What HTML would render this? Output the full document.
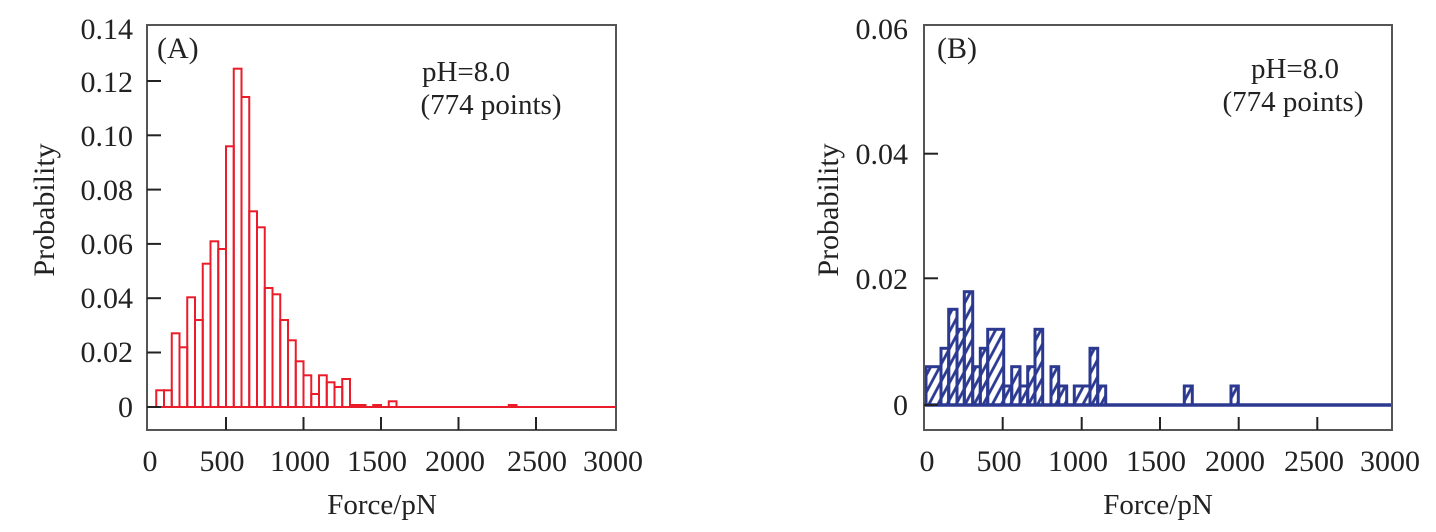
<!DOCTYPE html>
<html><head><meta charset="utf-8"><style>
html,body{margin:0;padding:0;background:#fff;}
svg{display:block;font-family:"Liberation Serif",serif;}
</style></head><body>
<svg width="1436" height="532" viewBox="0 0 1436 532" xmlns="http://www.w3.org/2000/svg">
<defs>
<pattern id="h" patternUnits="userSpaceOnUse" width="8" height="8" patternTransform="rotate(28)">
<line x1="2" y1="0" x2="2" y2="8" stroke="#2b3990" stroke-width="2.8"/>
</pattern>
</defs>
<!-- Panel A -->
<g stroke="#ea1c2a" stroke-width="2" fill="none">
<line x1="147" y1="407" x2="616" y2="407"/>
<rect x="156.25" y="390.3" width="7.75" height="16.7"/>
<rect x="164" y="390.3" width="7.75" height="16.7"/>
<rect x="171.75" y="333.3" width="7.75" height="73.7"/>
<rect x="179.5" y="347.3" width="7.75" height="59.7"/>
<rect x="187.25" y="297.3" width="7.75" height="109.7"/>
<rect x="195" y="320" width="7.75" height="87"/>
<rect x="202.75" y="263.7" width="7.75" height="143.3"/>
<rect x="210.5" y="241.3" width="7.75" height="165.7"/>
<rect x="218.25" y="249" width="7.75" height="158"/>
<rect x="226" y="146.3" width="7.75" height="260.7"/>
<rect x="233.75" y="68.7" width="7.75" height="338.3"/>
<rect x="241.5" y="97" width="7.75" height="310"/>
<rect x="249.25" y="211.3" width="7.75" height="195.7"/>
<rect x="257" y="227.3" width="7.75" height="179.7"/>
<rect x="264.75" y="288" width="7.75" height="119"/>
<rect x="272.5" y="294.3" width="7.75" height="112.7"/>
<rect x="280.25" y="320" width="7.75" height="87"/>
<rect x="288" y="340.3" width="7.75" height="66.7"/>
<rect x="295.75" y="361.3" width="7.75" height="45.7"/>
<rect x="303.5" y="375.3" width="7.75" height="31.7"/>
<rect x="311.25" y="394" width="7.75" height="13"/>
<rect x="319" y="375.3" width="7.75" height="31.7"/>
<rect x="326.75" y="382.3" width="7.75" height="24.7"/>
<rect x="334.5" y="387" width="7.75" height="20"/>
<rect x="342.25" y="379" width="7.75" height="28"/>
<rect x="350" y="405" width="7.75" height="2"/>
<rect x="357.75" y="405" width="7.75" height="2"/>
<rect x="373.25" y="405" width="7.75" height="2"/>
<rect x="388.75" y="401.3" width="7.75" height="5.7"/>
<rect x="508.75" y="405" width="7.75" height="2"/>
</g>
<g stroke="#222" stroke-width="2" fill="none">
<rect x="147" y="25" width="469" height="405" stroke="#555"/>
<line x1="147" y1="81" x2="161" y2="81"/><line x1="147" y1="135.3" x2="161" y2="135.3"/>
<line x1="147" y1="189.6" x2="161" y2="189.6"/><line x1="147" y1="243.9" x2="161" y2="243.9"/>
<line x1="147" y1="298.2" x2="161" y2="298.2"/><line x1="147" y1="352.5" x2="161" y2="352.5"/>
<line x1="147" y1="407" x2="161" y2="407"/>
<line x1="226" y1="430" x2="226" y2="417"/><line x1="303.5" y1="430" x2="303.5" y2="417"/>
<line x1="381" y1="430" x2="381" y2="417"/><line x1="458.5" y1="430" x2="458.5" y2="417"/>
<line x1="536" y1="430" x2="536" y2="417"/>
</g>
<g font-size="30" fill="#222" text-anchor="end">
<text x="133" y="39">0.14</text><text x="133" y="92">0.12</text><text x="133" y="146">0.10</text>
<text x="133" y="200">0.08</text><text x="133" y="254">0.06</text><text x="133" y="308">0.04</text>
<text x="133" y="362">0.02</text><text x="133" y="417">0</text>
</g>
<g font-size="30" fill="#222" text-anchor="middle">
<text x="150" y="471">0</text><text x="222" y="471">500</text><text x="300" y="471">1000</text>
<text x="377" y="471">1500</text><text x="455" y="471">2000</text><text x="537" y="471">2500</text><text x="613" y="471">3000</text>
<text x="382" y="514" font-size="29">Force/pN</text>
<text transform="translate(54,210) rotate(-90)" font-size="30">Probability</text>
<text x="466" y="81" font-size="29">pH=8.0</text>
<text x="491" y="114" font-size="29">(774 points)</text>
</g>
<text x="157" y="58" font-size="30" fill="#222">(A)</text>

<!-- Panel B -->
<g stroke="#2b3990" stroke-width="3" fill="url(#h)">
<rect x="926" y="366.7" width="15" height="38.3"/>
<rect x="941" y="348.3" width="7.7" height="56.7"/>
<rect x="948.7" y="309.3" width="8.3" height="95.7"/>
<rect x="957" y="329.3" width="7.3" height="75.7"/>
<rect x="964.3" y="291.7" width="8.4" height="113.3"/>
<rect x="972.7" y="366.7" width="7.6" height="38.3"/>
<rect x="980.3" y="348.3" width="7.4" height="56.7"/>
<rect x="987.7" y="329.3" width="16" height="75.7"/>
<rect x="1003.7" y="386" width="8" height="19"/>
<rect x="1011.7" y="366.7" width="8.3" height="38.3"/>
<rect x="1020" y="386" width="7.7" height="19"/>
<rect x="1027.7" y="366.7" width="7.3" height="38.3"/>
<rect x="1035" y="329.3" width="7.7" height="75.7"/>
<rect x="1051" y="366.7" width="7.7" height="38.3"/>
<rect x="1058.7" y="386" width="8" height="19"/>
<rect x="1074.3" y="386" width="15.7" height="19"/>
<rect x="1090" y="348.3" width="7.7" height="56.7"/>
<rect x="1097.7" y="386" width="8" height="19"/>
<rect x="1184.3" y="386" width="8" height="19"/>
<rect x="1231" y="386" width="7.3" height="19"/>
</g>
<line x1="924" y1="405" x2="1392" y2="405" stroke="#2b3990" stroke-width="3.5"/>
<g stroke="#222" stroke-width="2" fill="none">
<rect x="924" y="25" width="468" height="405" stroke="#555"/>
<line x1="924" y1="153.7" x2="938" y2="153.7"/><line x1="924" y1="278.3" x2="938" y2="278.3"/>
<line x1="924" y1="405" x2="938" y2="405"/>
<line x1="1002.7" y1="430" x2="1002.7" y2="417"/><line x1="1081.7" y1="430" x2="1081.7" y2="417"/>
<line x1="1160" y1="430" x2="1160" y2="417"/><line x1="1238.7" y1="430" x2="1238.7" y2="417"/>
<line x1="1317.3" y1="430" x2="1317.3" y2="417"/>
</g>
<g font-size="30" fill="#222" text-anchor="end">
<text x="908" y="39">0.06</text><text x="908" y="164">0.04</text><text x="908" y="289">0.02</text><text x="908" y="415">0</text>
</g>
<g font-size="30" fill="#222" text-anchor="middle">
<text x="927" y="471">0</text><text x="999" y="471">500</text><text x="1078" y="471">1000</text>
<text x="1156" y="471">1500</text><text x="1235" y="471">2000</text><text x="1314" y="471">2500</text><text x="1390" y="471">3000</text>
<text x="1158" y="514" font-size="29">Force/pN</text>
<text transform="translate(838,210) rotate(-90)" font-size="30">Probability</text>
<text x="1295" y="78" font-size="29">pH=8.0</text>
<text x="1293" y="111" font-size="29">(774 points)</text>
</g>
<text x="937" y="58" font-size="30" fill="#222">(B)</text>
</svg>
</body></html>
